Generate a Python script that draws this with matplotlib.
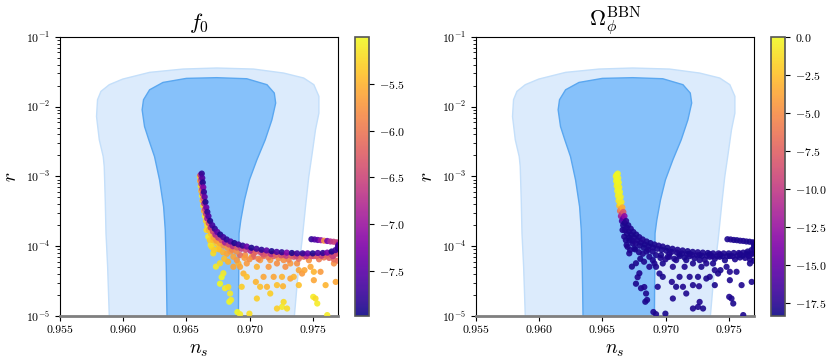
import numpy as np
import matplotlib
matplotlib.use("Agg")
import matplotlib.pyplot as plt

plt.rcParams.update({
    "font.family": "serif",
    "font.serif": ["cmr10", "DejaVu Serif"],
    "mathtext.fontset": "cm",
    "axes.formatter.use_mathtext": True,
})

# ---------------- Planck-like contours (boundary points, ns / r) ----------------
ns_outer = [0.95890, 0.95890, 0.95877, 0.95864, 0.95858, 0.95850, 0.95842, 0.95811,
            0.95789, 0.95797, 0.95824, 0.95890, 0.95996, 0.96209, 0.96474, 0.96739,
            0.97031, 0.97270, 0.97429, 0.97509, 0.97549, 0.97549, 0.97522, 0.97496,
            0.97469, 0.97443, 0.97416, 0.97384, 0.97355, 0.97355]
r_outer = [5e-6, 1.0e-5, 5.07e-5, 1.53e-4, 4.6e-4, 1.39e-3, 1.93e-3, 3.35e-3,
           7.24e-3, 1.26e-2, 1.66e-2, 2.07e-2, 2.49e-2, 3.11e-2, 3.47e-2, 3.59e-2,
           3.47e-2, 3.04e-2, 2.58e-2, 2.07e-2, 1.41e-2, 8.09e-3, 4.67e-3, 2.15e-3,
           9.95e-4, 3.69e-4, 1.22e-4, 4.06e-5, 1.0e-5, 5e-6]

ns_inner = [0.96347, 0.96347, 0.96341, 0.96333, 0.96320, 0.96288, 0.96248, 0.96203,
            0.96169, 0.96150, 0.96161, 0.96209, 0.96315, 0.96500, 0.96739, 0.96978,
            0.97138, 0.97196, 0.97207, 0.97177, 0.97124, 0.97058, 0.96999, 0.96960,
            0.96931, 0.96917, 0.96915, 0.96912, 0.96912]
r_inner = [5e-6, 1.0e-5, 5.07e-5, 1.71e-4, 3.69e-4, 8.91e-4, 1.93e-3, 3.35e-3,
           5.2e-3, 9.04e-3, 1.26e-2, 1.75e-2, 2.23e-2, 2.55e-2, 2.61e-2, 2.52e-2,
           2.07e-2, 1.57e-2, 1.13e-2, 6.49e-3, 3.35e-3, 1.73e-3, 8.91e-4, 4.6e-4,
           2.37e-4, 1.53e-4, 5.07e-5, 1.0e-5, 5e-6]

# ---------------- scatter points ----------------
# scattered points below the curve
ns_low = [0.96692, 0.96713, 0.96753, 0.96734, 0.96766, 0.96779, 0.96793, 0.96766, 0.96806, 0.96832,
          0.96846, 0.96840, 0.96854, 0.96904, 0.96925, 0.96999, 0.96660, 0.96673, 0.96686, 0.96713,
          0.96739, 0.97270, 0.97257, 0.97297, 0.97217, 0.97504, 0.97522, 0.97536, 0.97615,
          0.96872, 0.96912, 0.96925, 0.96978, 0.97018, 0.97058, 0.96952, 0.96978, 0.96938, 0.97050,
          0.97111, 0.97084, 0.97058, 0.97138, 0.97191, 0.97257, 0.97217, 0.97265, 0.97164, 0.97323,
          0.97350, 0.97390, 0.97416, 0.97435, 0.97483, 0.97509, 0.97562, 0.97668, 0.97682, 0.97602,
          0.97509, 0.97390, 0.97270, 0.97323, 0.97376, 0.97164, 0.97217, 0.97084, 0.97031, 0.96965,
          0.96899, 0.96872, 0.97151, 0.97284,
          0.96925, 0.97031, 0.97111, 0.97191, 0.97270, 0.97350, 0.97429, 0.97509, 0.97589, 0.97668,
          0.97642, 0.97682]
r_low = [1.04e-4, 7.9e-5, 9.3e-5, 5.1e-5, 5.7e-5, 3.6e-5, 4.1e-5, 2.9e-5, 2.5e-5, 2.6e-5,
         2.1e-5, 1.6e-5, 1.7e-5, 1.14e-5, 1.06e-5, 1.08e-5, 1.71e-4, 1.37e-4, 1.22e-4, 1.22e-4,
         1.10e-4, 1.59e-5, 1.35e-5, 1.28e-5, 1.28e-5, 1.88e-5, 1.78e-5, 1.51e-5, 1.03e-5,
         7.06e-5, 5.66e-5, 5.07e-5, 5.66e-5, 7.06e-5, 5.07e-5, 4.06e-5, 3.64e-5, 2.62e-5, 3.08e-5,
         3.64e-5, 2.62e-5, 1.78e-5, 2.62e-5, 3.64e-5, 3.64e-5, 2.77e-5, 2.67e-5, 2.10e-5, 3.44e-5,
         3.64e-5, 4.54e-5, 4.06e-5, 4.54e-5, 5.07e-5, 4.30e-5, 4.30e-5, 5.66e-5, 3.08e-5, 2.77e-5,
         3.26e-5, 2.77e-5, 6.32e-5, 5.66e-5, 5.66e-5, 6.32e-5, 5.66e-5, 6.32e-5, 7.88e-5, 7.46e-5,
         6.32e-5, 5.07e-5, 5.07e-5, 5.07e-5,
         7.46e-5, 7.06e-5, 7.21e-5, 7.21e-5, 7.46e-5, 7.06e-5, 7.06e-5, 7.21e-5, 6.90e-5, 6.46e-5,
         7.88e-5, 7.88e-5]
f0_low = [-5.1, -5.2, -5.3, -5.1, -5.2, -5.0, -5.1, -5.0, -5.1, -5.2,
          -5.1, -5.0, -5.1, -5.0, -5.1, -5.2, -5.2, -5.1, -5.3, -5.4,
          -5.3, -5.2, -5.1, -5.2, -5.3, -5.1, -5.2, -5.1, -5.1,
          -5.6, -5.5, -5.6, -5.7, -5.6, -5.5, -5.5, -5.4, -5.3, -5.5,
          -5.6, -5.4, -5.3, -5.5, -5.6, -5.5, -5.4, -5.5, -5.3, -5.6,
          -5.5, -5.6, -5.7, -5.6, -5.6, -5.5, -5.7, -5.8, -5.6, -5.5,
          -5.6, -5.4, -5.8, -5.7, -5.8, -5.7, -5.8, -5.7, -5.9, -5.8,
          -5.7, -5.6, -5.7, -5.8,
          -6.1, -6.2, -6.0, -6.2, -6.1, -6.3, -6.1, -6.2, -6.0, -6.1,
          -6.3, -6.2]
om_low = [-17.9, -17.8, -17.9, -18.0, -17.9, -17.8, -17.9, -18.0, -17.9, -17.8,
          -17.9, -18.0, -17.9, -17.8, -17.9, -18.0, -17.9, -17.8, -17.9, -18.0,
          -17.9, -17.8, -17.9, -18.0, -17.9, -17.8, -17.9, -18.0, -17.9,
          -17.9, -17.8, -17.9, -18.0, -17.9, -17.8, -17.9, -18.0, -17.9, -17.8,
          -17.9, -18.0, -17.9, -17.8, -17.9, -18.0, -17.9, -17.8, -17.9, -18.0,
          -17.9, -17.8, -17.9, -18.0, -17.9, -17.8, -17.9, -18.0, -17.9, -17.8,
          -17.9, -18.0, -17.9, -17.8, -17.9, -18.0, -17.9, -17.8, -17.9, -18.0,
          -17.9, -17.8, -17.9, -18.0,
          -17.9, -17.8, -17.9, -18.0, -17.9, -17.8, -17.9, -18.0, -17.9, -17.8,
          -17.9, -18.0]

# dense band just beneath the curve
ns_band = [0.96960, 0.97000, 0.97070, 0.97150, 0.97230, 0.97310, 0.97390, 0.97470, 0.97550, 0.97630,
           0.97700, 0.96760, 0.96790, 0.96820, 0.96850, 0.96800, 0.96830, 0.96700, 0.96720, 0.97110,
           0.97190, 0.97350, 0.97430, 0.97590, 0.97660]
r_band = [6.8e-5, 6.5e-5, 6.6e-5, 6.9e-5, 6.7e-5, 6.4e-5, 6.6e-5, 6.3e-5, 6.5e-5, 6.8e-5,
          6.2e-5, 9.0e-5, 8.2e-5, 7.8e-5, 8.4e-5, 6.6e-5, 6.0e-5, 9.8e-5, 8.8e-5, 7.6e-5,
          7.8e-5, 7.7e-5, 7.6e-5, 7.7e-5, 7.2e-5]
f0_band = [-5.7, -5.8, -5.9, -6.0, -5.8, -5.9, -6.1, -5.8, -6.0, -6.2,
           -6.1, -5.4, -5.5, -5.6, -5.7, -5.4, -5.5, -5.2, -5.3, -6.3,
           -6.4, -6.2, -6.5, -6.3, -6.6]
om_band = [-17.9, -17.8, -17.9, -18.0, -17.9, -17.8, -17.9, -18.0, -17.9, -17.8,
           -17.9, -18.0, -17.9, -17.8, -17.9, -18.0, -17.9, -17.8, -17.9, -18.0,
           -17.9, -17.8, -17.9, -18.0, -17.9]

# inner (lower-left) band of the curve
ns_c = [0.96606, 0.96609, 0.96613, 0.96618, 0.96623, 0.96628, 0.96634, 0.96640, 0.96647, 0.96655,
        0.96665, 0.96678, 0.96695, 0.96715, 0.96738, 0.96765, 0.96795, 0.96828, 0.96862, 0.96898]
r_c = [1.0e-3, 8.6e-4, 7.3e-4, 6.2e-4, 5.3e-4, 4.5e-4, 3.8e-4, 3.2e-4, 2.7e-4, 2.3e-4,
       2.0e-4, 1.7e-4, 1.5e-4, 1.33e-4, 1.2e-4, 1.1e-4, 1.02e-4, 9.5e-5, 8.9e-5, 8.4e-5]
f0_c = [-5.3, -5.6, -5.2, -5.5, -5.1, -5.4, -5.2, -5.6, -5.1, -5.3,
        -5.2, -5.5, -5.4, -5.6, -5.7, -5.6, -5.8, -5.7, -5.9, -5.8]
om_c = [-0.3, -0.2, -0.4, -0.3, -0.5, -0.8, -2.5, -6.5, -12.0, -16.5,
        -17.9, -17.8, -17.9, -18.0, -17.9, -17.8, -17.9, -18.0, -17.9, -17.8]

# middle band of the curve
ns_b = [0.96612, 0.96616, 0.96620, 0.96625, 0.96630, 0.96635, 0.96641, 0.96648, 0.96656, 0.96665,
        0.96677, 0.96692, 0.96710, 0.96730, 0.96752, 0.96778, 0.96806, 0.96836, 0.96868, 0.96900,
        0.96935, 0.96970, 0.97008, 0.97048, 0.97090, 0.97130, 0.97170, 0.97210, 0.97250, 0.97290,
        0.97330, 0.97370, 0.97410, 0.97450, 0.97490, 0.97530, 0.97570, 0.97610, 0.97650, 0.97690]
r_b = [1.05e-3, 9.0e-4, 7.8e-4, 6.6e-4, 5.6e-4, 4.8e-4, 4.1e-4, 3.4e-4, 2.9e-4, 2.5e-4,
       2.15e-4, 1.85e-4, 1.63e-4, 1.46e-4, 1.33e-4, 1.22e-4, 1.13e-4, 1.06e-4, 1.0e-4, 9.6e-5,
       9.2e-5, 8.9e-5, 8.6e-5, 8.3e-5, 8.1e-5, 7.9e-5, 7.7e-5, 7.5e-5, 7.4e-5, 7.3e-5,
       7.3e-5, 7.2e-5, 7.2e-5, 7.2e-5, 7.2e-5, 7.2e-5, 7.3e-5, 7.3e-5, 7.5e-5, 7.8e-5]
f0_b = [-6.8, -6.5, -6.9, -6.4, -6.7, -6.3, -6.8, -6.5, -6.6, -6.9,
        -6.4, -6.7, -6.5, -6.8, -6.6, -6.4, -6.9, -6.5, -6.7, -6.3,
        -6.6, -6.4, -6.8, -6.2, -6.5, -6.3, -6.7, -6.2, -6.4, -6.6,
        -6.3, -6.5, -6.2, -6.7, -6.4, -6.3, -6.6, -6.2, -6.5, -6.4]
om_b = [-0.2, -0.1, -0.3, -0.2, -0.4, -0.5, -0.9, -5.0, -10.0, -15.0,
        -17.9, -17.8, -17.9, -18.0, -17.9, -17.8, -17.9, -18.0, -17.9, -17.8,
        -17.9, -18.0, -17.9, -17.8, -17.9, -18.0, -17.9, -17.8, -17.9, -18.0,
        -17.9, -17.8, -17.9, -18.0, -17.9, -17.8, -17.9, -18.0, -17.9, -17.8]

# outer (upper-right) edge of the curve
ns_a = [0.96622, 0.96626, 0.96630, 0.96634, 0.96639, 0.96645, 0.96651, 0.96658, 0.96666, 0.96675,
        0.96688, 0.96705, 0.96725, 0.96745, 0.96768, 0.96792, 0.96819, 0.96850, 0.96880, 0.96912,
        0.96945, 0.96978, 0.97015, 0.97055, 0.97095, 0.97135, 0.97175, 0.97215, 0.97255, 0.97295,
        0.97335, 0.97377, 0.97420, 0.97460, 0.97500, 0.97540, 0.97580, 0.97615, 0.97650, 0.97680,
        0.97700]
r_a = [1.1e-3, 9.5e-4, 8.2e-4, 7.0e-4, 6.0e-4, 5.1e-4, 4.3e-4, 3.6e-4, 3.1e-4, 2.7e-4,
       2.3e-4, 2.0e-4, 1.78e-4, 1.6e-4, 1.47e-4, 1.35e-4, 1.25e-4, 1.17e-4, 1.11e-4, 1.06e-4,
       1.02e-4, 9.9e-5, 9.5e-5, 9.2e-5, 8.9e-5, 8.7e-5, 8.5e-5, 8.3e-5, 8.2e-5, 8.1e-5,
       8.0e-5, 7.9e-5, 7.9e-5, 7.9e-5, 7.9e-5, 8.0e-5, 8.0e-5, 8.1e-5, 8.4e-5, 8.8e-5,
       9.3e-5]
f0_a = [-7.8, -7.6, -7.9, -7.3, -7.8, -7.5, -7.9, -7.4, -7.8, -7.6,
        -7.9, -7.7, -7.8, -7.5, -7.9, -7.7, -7.8, -7.6, -7.9, -7.7,
        -7.8, -7.4, -7.9, -7.7, -7.8, -7.5, -7.9, -7.6, -7.8, -7.2,
        -7.9, -7.7, -7.8, -7.5, -7.9, -7.6, -7.8, -7.3, -7.9, -7.7,
        -7.8]
om_a = [-0.1, -0.2, -0.1, -0.3, -0.2, -0.4, -0.7, -3.5, -8.0, -13.0,
        -17.5, -17.9, -17.8, -17.9, -18.0, -17.9, -17.8, -17.9, -18.0, -17.9,
        -17.8, -17.9, -18.0, -17.9, -17.8, -17.9, -18.0, -17.9, -17.8, -17.9,
        -18.0, -17.9, -17.8, -17.9, -18.0, -17.9, -17.8, -17.9, -18.0, -17.9,
        -17.8]

# upper branch on the right
ns_br = [0.97490, 0.97515, 0.97540, 0.97565, 0.97590, 0.97615, 0.97640, 0.97665, 0.97690, 0.97705,
         0.97705, 0.97700]
r_br = [1.26e-4, 1.25e-4, 1.23e-4, 1.22e-4, 1.20e-4, 1.19e-4, 1.17e-4, 1.16e-4, 1.14e-4, 1.12e-4,
        1.05e-4, 1.0e-4]
f0_br = [-7.8, -7.6, -7.5, -7.0, -5.8, -7.3, -6.8, -6.6, -6.5, -6.7, -7.5, -7.7]
om_br = [-17.9, -17.8, -17.9, -18.0, -17.9, -17.8, -17.9, -18.0, -17.9, -17.8, -17.9, -18.0]

ns_all = np.array(ns_low + ns_band + ns_c + ns_b + ns_a + ns_br)
r_all = np.array(r_low + r_band + r_c + r_b + r_a + r_br)
f0_all = np.array(f0_low + f0_band + f0_c + f0_b + f0_a + f0_br)
om_all = np.array(om_low + om_band + om_c + om_b + om_a + om_br)

xticks = [0.955, 0.960, 0.965, 0.970, 0.975]
xticklabels = ["0.955", "0.960", "0.965", "0.970", "0.975"]
f0_ticks = [-5.5, -6.0, -6.5, -7.0, -7.5]
om_ticks = [0.0, -2.5, -5.0, -7.5, -10.0, -12.5, -15.0, -17.5]
f0_range = (-7.98, -5.0)
om_range = (-18.33, 0.0)

fig = plt.figure(figsize=(8.3, 3.64), dpi=100)
ax1 = fig.add_axes([0.0723, 0.1319, 0.3349, 0.7665])
cax1 = fig.add_axes([0.4277, 0.1319, 0.0169, 0.7665])
ax2 = fig.add_axes([0.5735, 0.1319, 0.3349, 0.7665])
cax2 = fig.add_axes([0.9289, 0.1319, 0.0169, 0.7665])

for ax, cvals, rng, cax, ticks, title in [
        (ax1, f0_all, f0_range, cax1, f0_ticks, r"$f_0$"),
        (ax2, om_all, om_range, cax2, om_ticks, r"$\Omega_\phi^{\rm BBN}$")]:
    ax.fill(ns_outer, r_outer, facecolor="#dcebfc", edgecolor="#c4dffa", lw=1.0, zorder=1)
    ax.fill(ns_inner, r_inner, facecolor="#86c1fa", edgecolor="#5aa7f0", lw=1.0, zorder=2)
    sc = ax.scatter(ns_all, r_all, c=cvals, cmap="plasma", vmin=rng[0], vmax=rng[1],
                    s=20, linewidths=0, alpha=0.9, zorder=3)
    ax.set_yscale("log")
    ax.set_xlim(0.955, 0.977)
    ax.set_ylim(1e-5, 1e-1)
    ax.set_xticks(xticks, labels=xticklabels)
    ax.tick_params(labelsize=8.5)
    ax.set_xlabel(r"$n_s$", fontsize=14)
    ax.set_ylabel(r"$r$", fontsize=14)
    ax.set_title(title, fontsize=16, pad=6)
    ax.spines["bottom"].set_color("#7f7f7f")
    ax.spines["bottom"].set_linewidth(2.0)
    cb = fig.colorbar(sc, cax=cax, ticks=ticks)
    cb.ax.tick_params(labelsize=8.5)
    cb.outline.set_edgecolor("#555555")
    cb.outline.set_linewidth(1.2)

fig.savefig("out.png", dpi=100)
